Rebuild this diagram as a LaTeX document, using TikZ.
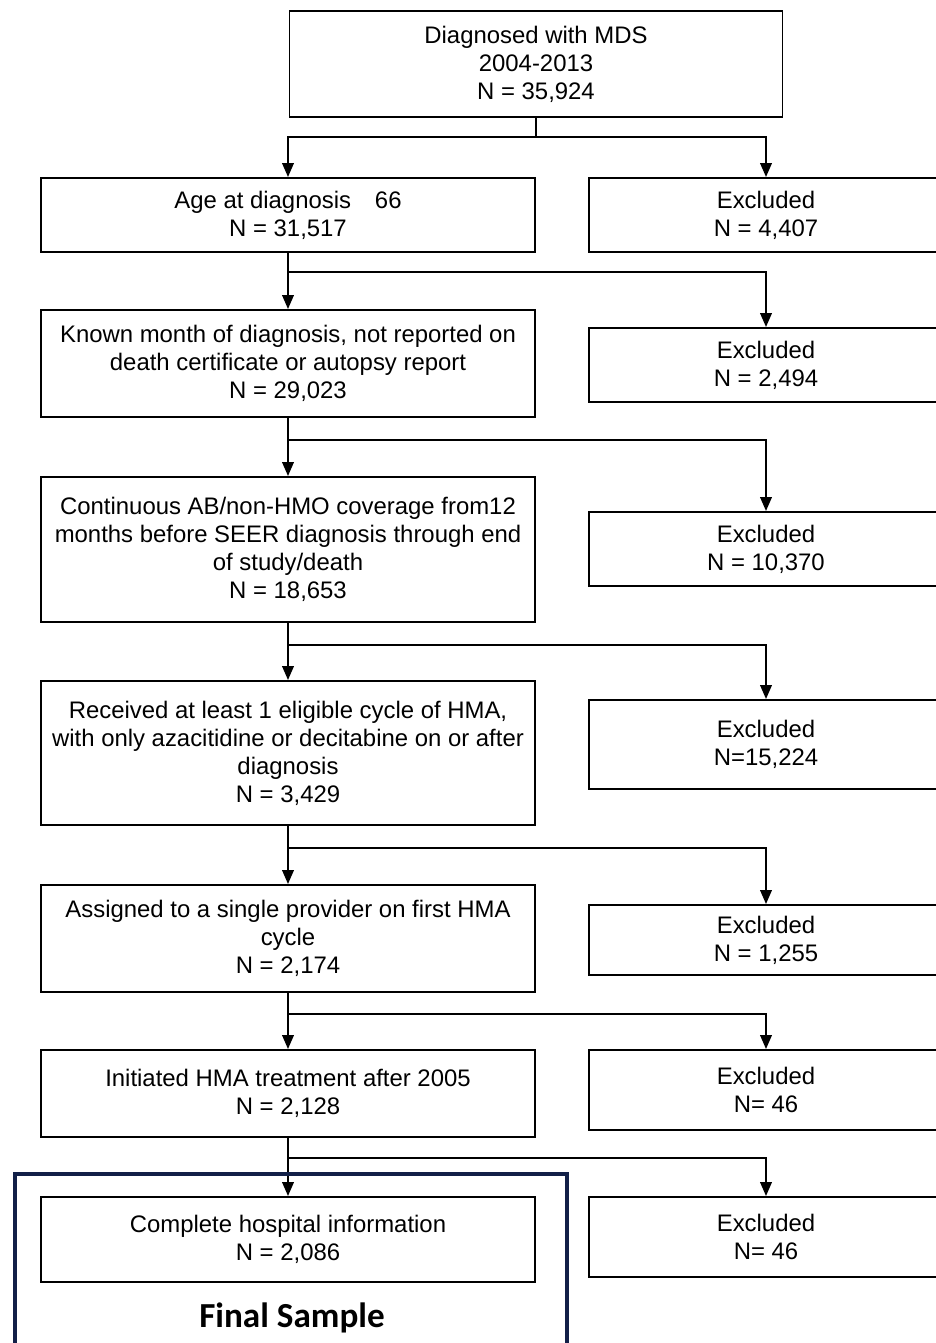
\documentclass[tikz,border=0pt]{standalone}
\usepackage{fontspec}
\setmainfont{Liberation Sans}
\newfontfamily\finalfont{Carlito}
\usetikzlibrary{arrows.meta}
\definecolor{framenavy}{RGB}{18,32,72}
\def\pxl{0.025cm}
\tikzset{
  stage/.style={draw, line width=1.4pt, minimum width=494*\pxl, align=center, inner sep=0pt,
    font=\fontsize{17}{19.9}\selectfont},
  excl/.style={stage, minimum width=354*\pxl},
  flow/.style={line width=1.4pt},
  flowarr/.style={flow, -{Triangle[length=3.5mm,width=2.9mm]}},
}
\begin{document}
\begin{tikzpicture}[x=\pxl, y=-\pxl]
\useasboundingbox (0,0) rectangle (935,1343);

% Boxes of the main flow
\node[stage, minimum width=493*\pxl, minimum height=106*\pxl] (mds) at (536,64) {Diagnosed with MDS\\2004-2013\\N = 35,924};
\node[stage, minimum height=74*\pxl] (age) at (288,215) {Age at diagnosis\quad 66\\N = 31,517};
\node[stage, minimum height=107*\pxl] (known) at (288,363.5) {Known month of diagnosis, not reported on\\death certificate or autopsy report\\N = 29,023};
\node[stage, minimum height=145*\pxl] (cover) at (288,549.5) {Continuous AB/non-HMO coverage from12\\months before SEER diagnosis through end\\of study/death\\N = 18,653};
\node[stage, minimum height=144*\pxl] (hma) at (288,753) {Received at least 1 eligible cycle of HMA,\\with only azacitidine or decitabine on or after\\diagnosis\\N = 3,429};
\node[stage, minimum height=107*\pxl] (prov) at (288,938.5) {Assigned to a single provider on first HMA\\cycle\\N = 2,174};
\node[stage, minimum height=87*\pxl] (init) at (288,1093.5) {Initiated HMA treatment after 2005\\N = 2,128};
\node[stage, minimum height=85*\pxl] (hosp) at (288,1239.5) {Complete hospital information\\N = 2,086};

% Excluded boxes
\node[excl, minimum height=74*\pxl] (ex1) at (766,215) {Excluded\\N = 4,407};
\node[excl, minimum height=74*\pxl] (ex2) at (766,365) {Excluded\\N = 2,494};
\node[excl, minimum height=74*\pxl] (ex3) at (766,549) {Excluded\\N = 10,370};
\node[excl, minimum height=89*\pxl] (ex4) at (766,744.5) {Excluded\\N=15,224};
\node[excl, minimum height=70*\pxl] (ex5) at (766,940) {Excluded\\N = 1,255};
\node[excl, minimum height=80*\pxl] (ex6) at (766,1090) {Excluded\\N= 46};
\node[excl, minimum height=80*\pxl] (ex7) at (766,1237) {Excluded\\N= 46};

% Branch points
\coordinate (j0) at (536,137);
\coordinate (j1) at (288,272);
\coordinate (j2) at (288,440);
\coordinate (j3) at (288,645);
\coordinate (j4) at (288,848);
\coordinate (j5) at (288,1014);
\coordinate (j6) at (288,1158);

% Connectors
\draw[flow] (mds.south) -- (j0);
\draw[flowarr] (j0) -| (age.north);
\draw[flowarr] (j0) -| (ex1.north);
\draw[flowarr] (age.south) -- (known.north);
\draw[flowarr] (j1) -| (ex2.north);
\draw[flowarr] (known.south) -- (cover.north);
\draw[flowarr] (j2) -| (ex3.north);
\draw[flowarr] (cover.south) -- (hma.north);
\draw[flowarr] (j3) -| (ex4.north);
\draw[flowarr] (hma.south) -- (prov.north);
\draw[flowarr] (j4) -| (ex5.north);
\draw[flowarr] (prov.south) -- (init.north);
\draw[flowarr] (j5) -| (ex6.north);
\draw[flowarr] (init.south) -- (hosp.north);
\draw[flowarr] (j6) -| (ex7.north);

% Final sample frame
\node[draw=framenavy, line width=2.6pt, minimum width=552*\pxl, minimum height=176*\pxl, anchor=north west, inner sep=0pt] (frame) at (13,1172) {};
\node[font=\finalfont\bfseries\fontsize{25}{30}\selectfont] (finaltxt) at (292,1318) {Final Sample};
\end{tikzpicture}
\end{document}
